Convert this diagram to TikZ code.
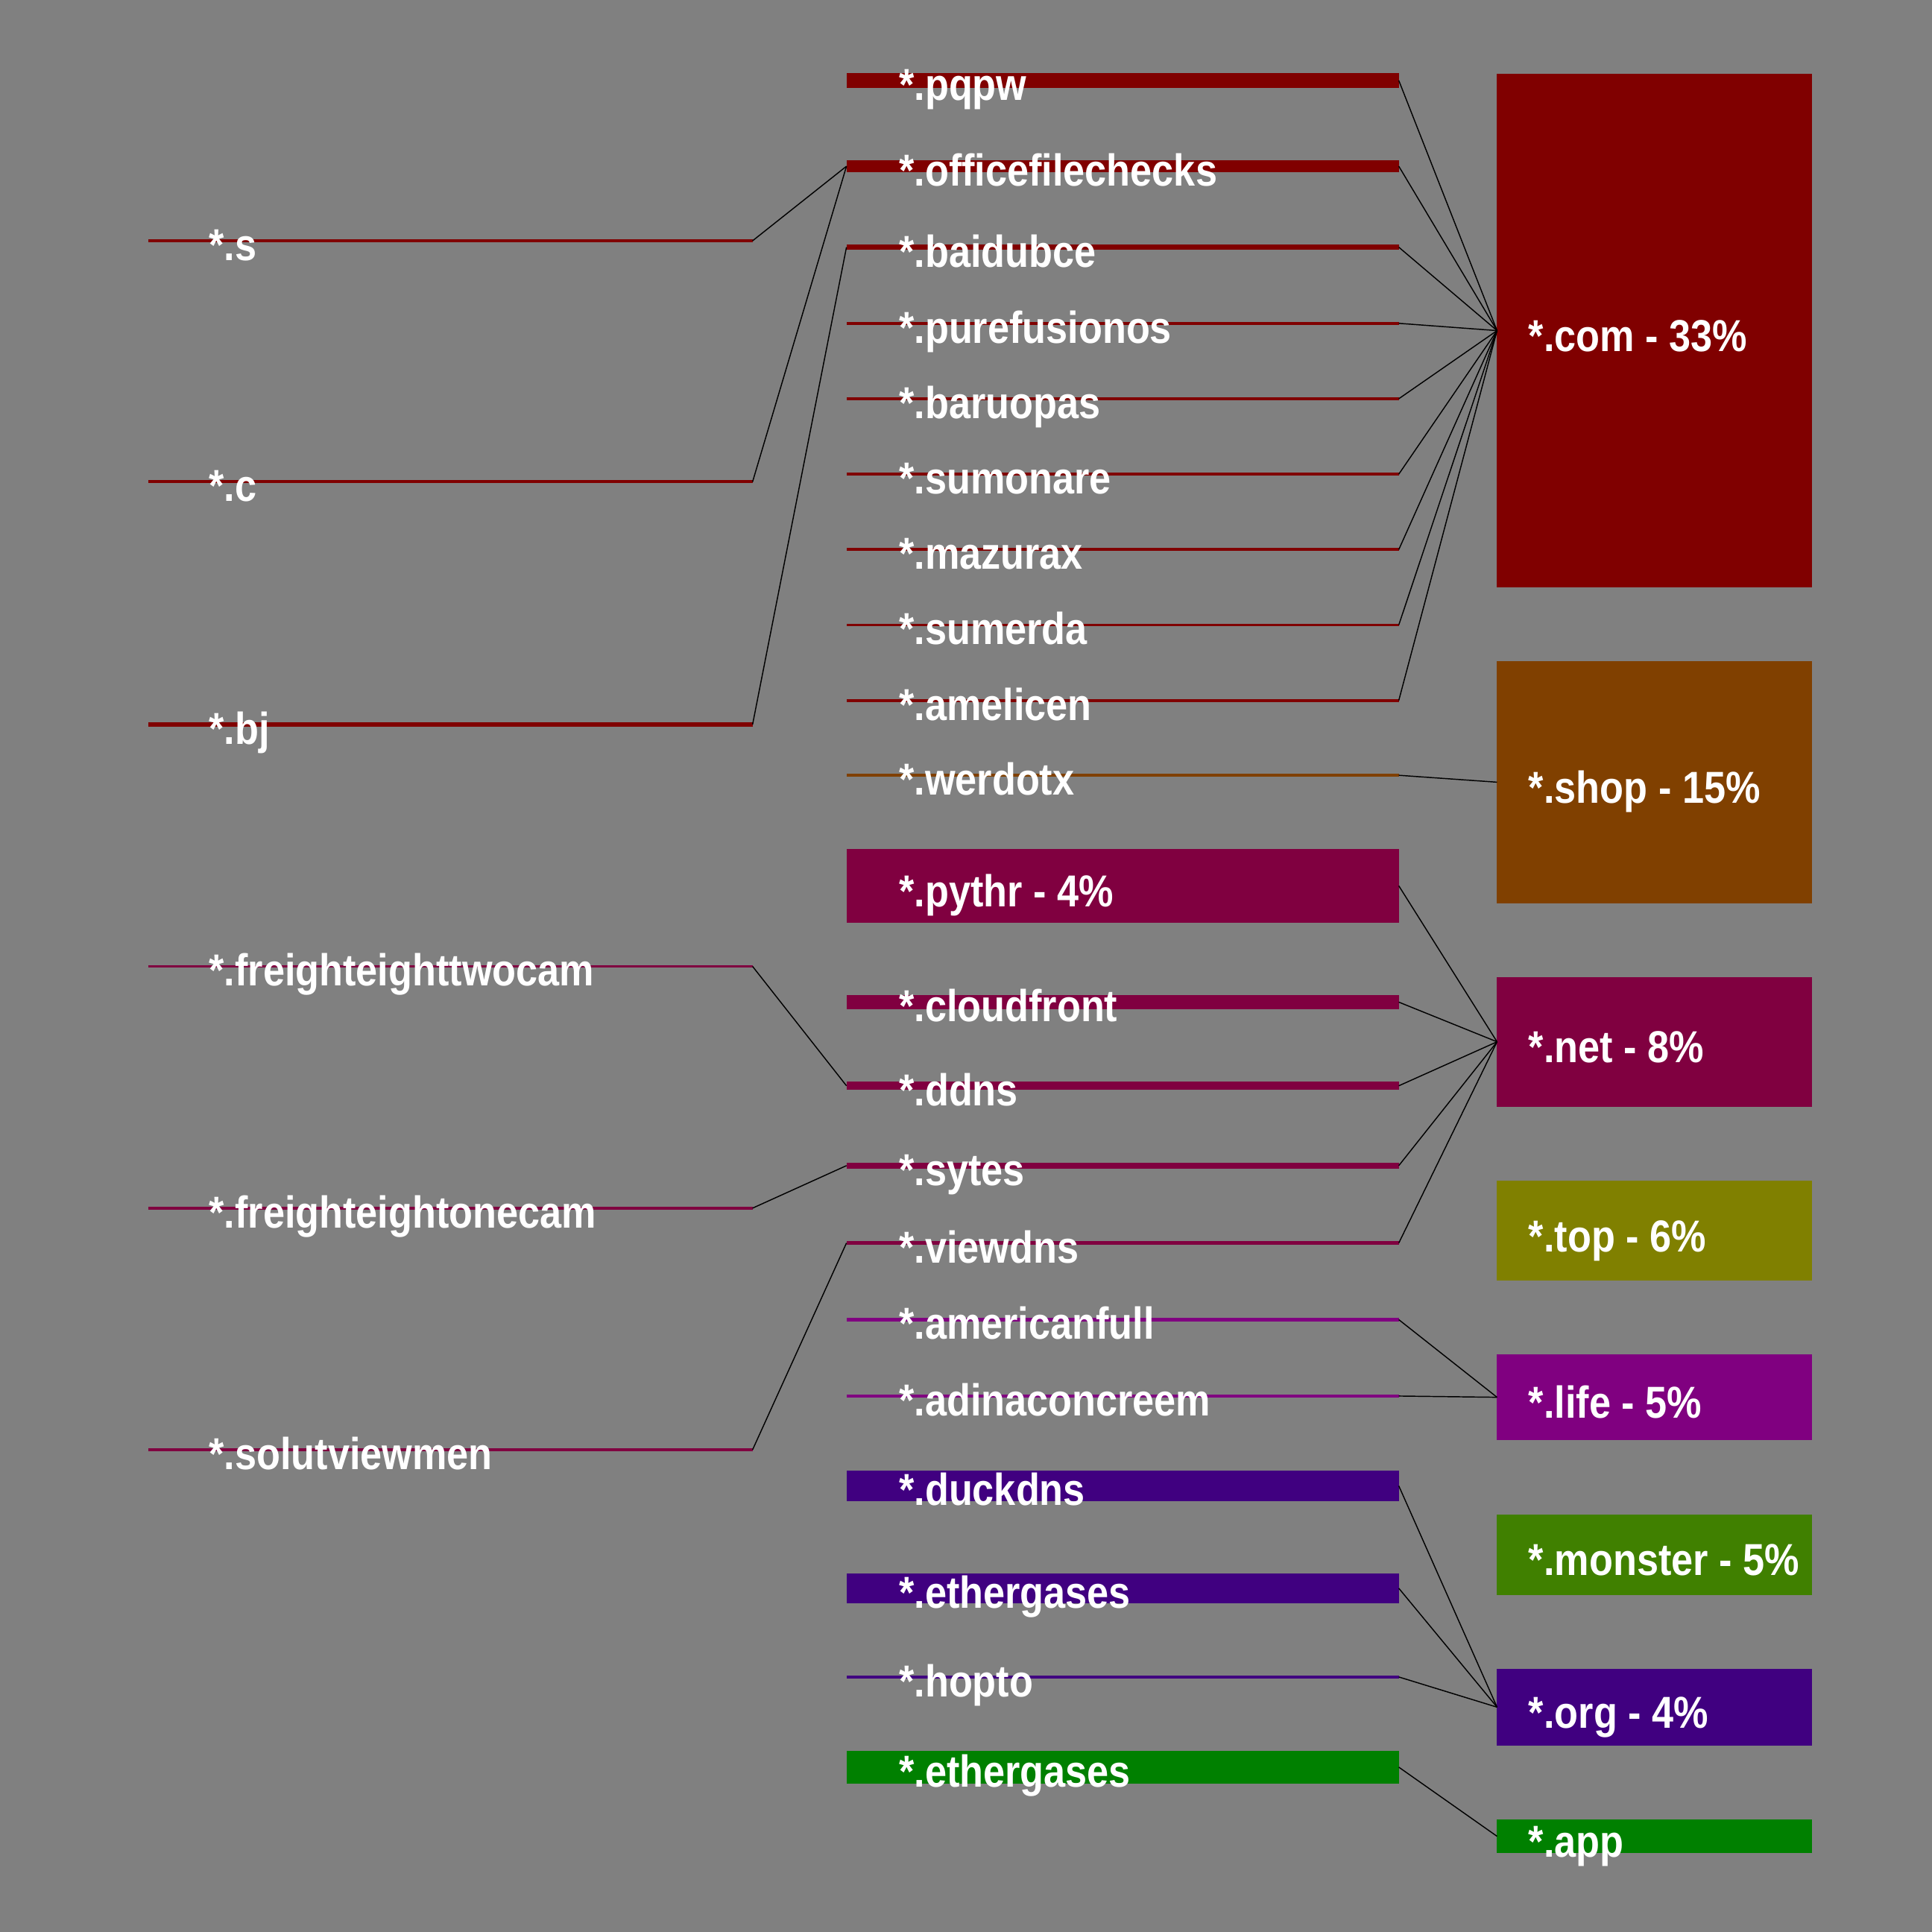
\documentclass[tikz,border=0pt]{standalone}
\usepackage{fontspec}
\newfontfamily\lblfont{Liberation Sans}[FakeStretch=0.87]
\definecolor{bgGray}{HTML}{808080}
\definecolor{comRed}{HTML}{800000}
\definecolor{shopBrown}{HTML}{804000}
\definecolor{netWine}{HTML}{800040}
\definecolor{topOlive}{HTML}{808000}
\definecolor{lifePurple}{HTML}{800080}
\definecolor{monsterGreen}{HTML}{408000}
\definecolor{orgIndigo}{HTML}{400080}
\definecolor{appGreen}{HTML}{008000}

\begin{document}
\begin{tikzpicture}[
    x=0.01cm,
    y=-0.01cm,
    leftbar/.style={rectangle, inner sep=0pt, outer sep=0pt, anchor=west, minimum width=4.9cm},
    midbar/.style={rectangle, inner sep=0pt, outer sep=0pt, anchor=west, minimum width=4.48cm},
    tldbox/.style={rectangle, inner sep=0pt, outer sep=0pt, anchor=west, minimum width=2.555cm},
    lbl/.style={anchor=base west, inner sep=0pt, text=white, font=\lblfont\bfseries\fontsize{10.33pt}{12pt}\selectfont},
    link/.style={black, line width=0.25pt}
]
\fill[bgGray] (0,0) rectangle (1568,1568);

% left column
\node[leftbar, fill=comRed, minimum height=0.025cm] (ls) at (120.5,195.4) {};
\node[lbl] (ls-t) at ([shift={(48.5,16)}]ls.west) {*.s};
\node[leftbar, fill=comRed, minimum height=0.025cm] (lc) at (120.5,391) {};
\node[lbl] (lc-t) at ([shift={(48.5,16)}]lc.west) {*.c};
\node[leftbar, fill=comRed, minimum height=0.032cm] (lbj) at (120.5,588) {};
\node[lbl] (lbj-t) at ([shift={(48.5,16)}]lbj.west) {*.bj};
\node[leftbar, fill=netWine, minimum height=0.023cm] (ltwo) at (120.5,784.3) {};
\node[lbl] (ltwo-t) at ([shift={(48.5,16)}]ltwo.west) {*.freighteighttwocam};
\node[leftbar, fill=netWine, minimum height=0.023cm] (lone) at (120.5,980.5) {};
\node[lbl] (lone-t) at ([shift={(48.5,16)}]lone.west) {*.freighteightonecam};
\node[leftbar, fill=netWine, minimum height=0.025cm] (lsolut) at (120.5,1176.6) {};
\node[lbl] (lsolut-t) at ([shift={(48.5,16)}]lsolut.west) {*.solutviewmen};

% middle column
\node[midbar, fill=comRed, minimum height=0.117cm] (pqpw) at (687,65.3) {};
\node[lbl] (pqpw-t) at ([shift={(42,16)}]pqpw.west) {*.pqpw};
\node[midbar, fill=comRed, minimum height=0.095cm] (office) at (687,134.9) {};
\node[lbl] (office-t) at ([shift={(42,16)}]office.west) {*.officefilechecks};
\node[midbar, fill=comRed, minimum height=0.041cm] (baidu) at (687,200.6) {};
\node[lbl] (baidu-t) at ([shift={(42,16)}]baidu.west) {*.baidubce};
\node[midbar, fill=comRed, minimum height=0.023cm] (pure) at (687,262.4) {};
\node[lbl] (pure-t) at ([shift={(42,16)}]pure.west) {*.purefusionos};
\node[midbar, fill=comRed, minimum height=0.023cm] (baru) at (687,323.6) {};
\node[lbl] (baru-t) at ([shift={(42,16)}]baru.west) {*.baruopas};
\node[midbar, fill=comRed, minimum height=0.023cm] (sumo) at (687,384.8) {};
\node[lbl] (sumo-t) at ([shift={(42,16)}]sumo.west) {*.sumonare};
\node[midbar, fill=comRed, minimum height=0.023cm] (mazu) at (687,446) {};
\node[lbl] (mazu-t) at ([shift={(42,16)}]mazu.west) {*.mazurax};
\node[midbar, fill=comRed, minimum height=0.023cm] (sume) at (687,507.2) {};
\node[lbl] (sume-t) at ([shift={(42,16)}]sume.west) {*.sumerda};
\node[midbar, fill=comRed, minimum height=0.023cm] (ameli) at (687,568.4) {};
\node[lbl] (ameli-t) at ([shift={(42,16)}]ameli.west) {*.amelicen};
\node[midbar, fill=shopBrown, minimum height=0.02cm] (werd) at (687,629.2) {};
\node[lbl] (werd-t) at ([shift={(42,16)}]werd.west) {*.werdotx};
\node[midbar, fill=netWine, minimum height=0.598cm] (pythr) at (687,718.9) {};
\node[lbl] (pythr-t) at ([shift={(42,17)}]pythr.west) {*.pythr - 4\%};
\node[midbar, fill=netWine, minimum height=0.114cm] (cloud) at (687,813.3) {};
\node[lbl] (cloud-t) at ([shift={(42,16)}]cloud.west) {*.cloudfront};
\node[midbar, fill=netWine, minimum height=0.069cm] (ddns) at (687,881.2) {};
\node[lbl] (ddns-t) at ([shift={(42,16)}]ddns.west) {*.ddns};
\node[midbar, fill=netWine, minimum height=0.047cm] (sytes) at (687,946) {};
\node[lbl] (sytes-t) at ([shift={(42,16)}]sytes.west) {*.sytes};
\node[midbar, fill=netWine, minimum height=0.032cm] (viewd) at (687,1008.8) {};
\node[lbl] (viewd-t) at ([shift={(42,16)}]viewd.west) {*.viewdns};
\node[midbar, fill=lifePurple, minimum height=0.025cm] (amer) at (687,1071) {};
\node[lbl] (amer-t) at ([shift={(42,16)}]amer.west) {*.americanfull};
\node[midbar, fill=lifePurple, minimum height=0.025cm] (adina) at (687,1133) {};
\node[lbl] (adina-t) at ([shift={(42,16)}]adina.west) {*.adinaconcreem};
\node[midbar, fill=orgIndigo, minimum height=0.246cm] (duck) at (687,1205.9) {};
\node[lbl] (duck-t) at ([shift={(42,16)}]duck.west) {*.duckdns};
\node[midbar, fill=orgIndigo, minimum height=0.238cm] (ether) at (687,1289) {};
\node[lbl] (ether-t) at ([shift={(42,16)}]ether.west) {*.ethergases};
\node[midbar, fill=orgIndigo, minimum height=0.023cm] (hopto) at (687,1361) {};
\node[lbl] (hopto-t) at ([shift={(42,16)}]hopto.west) {*.hopto};
\node[midbar, fill=appGreen, minimum height=0.264cm] (etherb) at (687,1434.2) {};
\node[lbl] (etherb-t) at ([shift={(42,16)}]etherb.west) {*.ethergases};

% right column
\node[tldbox, fill=comRed, minimum height=4.165cm] (com) at (1215,268.3) {};
\node[lbl] (com-t) at ([shift={(25,17)}]com.west) {*.com - 33\%};
\node[tldbox, fill=shopBrown, minimum height=1.965cm] (shop) at (1215,634.8) {};
\node[lbl] (shop-t) at ([shift={(25,17)}]shop.west) {*.shop - 15\%};
\node[tldbox, fill=netWine, minimum height=1.05cm] (net) at (1215,845.5) {};
\node[lbl] (net-t) at ([shift={(25,17)}]net.west) {*.net - 8\%};
\node[tldbox, fill=topOlive, minimum height=0.807cm] (top) at (1215,998.7) {};
\node[lbl] (top-t) at ([shift={(25,17)}]top.west) {*.top - 6\%};
\node[tldbox, fill=lifePurple, minimum height=0.70cm] (life) at (1215,1134) {};
\node[lbl] (life-t) at ([shift={(25,17)}]life.west) {*.life - 5\%};
\node[tldbox, fill=monsterGreen, minimum height=0.652cm] (monster) at (1215,1261.8) {};
\node[lbl] (monster-t) at ([shift={(25,17)}]monster.west) {*.monster - 5\%};
\node[tldbox, fill=orgIndigo, minimum height=0.62cm] (org) at (1215,1385.5) {};
\node[lbl] (org-t) at ([shift={(25,17)}]org.west) {*.org - 4\%};
\node[tldbox, fill=appGreen, minimum height=0.271cm] (app) at (1215,1490.3) {};
\node[lbl] (app-t) at ([shift={(25,17)}]app.west) {*.app};

% left -> middle
\draw[link] (ls.east) -- (office.west);
\draw[link] (lc.east) -- (office.west);
\draw[link] (lbj.east) -- (baidu.west);
\draw[link] (ltwo.east) -- (ddns.west);
\draw[link] (lone.east) -- (sytes.west);
\draw[link] (lsolut.east) -- (viewd.west);

% middle -> right
\draw[link] (pqpw.east) -- (com.west);
\draw[link] (office.east) -- (com.west);
\draw[link] (baidu.east) -- (com.west);
\draw[link] (pure.east) -- (com.west);
\draw[link] (baru.east) -- (com.west);
\draw[link] (sumo.east) -- (com.west);
\draw[link] (mazu.east) -- (com.west);
\draw[link] (sume.east) -- (com.west);
\draw[link] (ameli.east) -- (com.west);
\draw[link] (werd.east) -- (shop.west);
\draw[link] (pythr.east) -- (net.west);
\draw[link] (cloud.east) -- (net.west);
\draw[link] (ddns.east) -- (net.west);
\draw[link] (sytes.east) -- (net.west);
\draw[link] (viewd.east) -- (net.west);
\draw[link] (amer.east) -- (life.west);
\draw[link] (adina.east) -- (life.west);
\draw[link] (duck.east) -- (org.west);
\draw[link] (ether.east) -- (org.west);
\draw[link] (hopto.east) -- (org.west);
\draw[link] (etherb.east) -- (app.west);
\end{tikzpicture}
\end{document}
